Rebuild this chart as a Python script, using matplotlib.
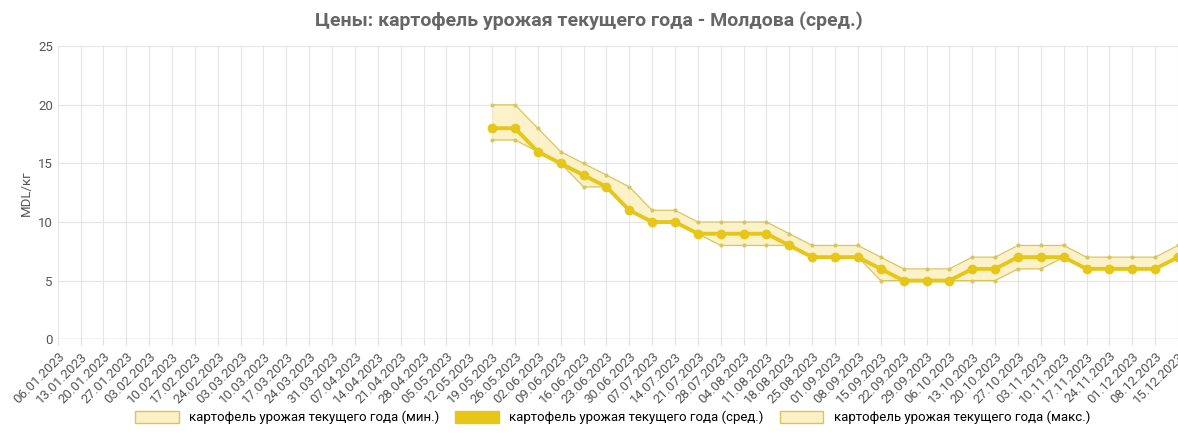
import matplotlib.pyplot as plt
import datetime as dt

plt.rcParams['font.family'] = ['Roboto', 'DejaVu Sans']

start = dt.date(2023, 1, 6)
dates = [(start + dt.timedelta(weeks=i)).strftime('%d.%m.%Y') for i in range(50)]
first = 19  # 19.05.2023

avg = [18, 18, 16, 15, 14, 13, 11, 10, 10, 9, 9, 9, 9, 8, 7, 7, 7, 6, 5, 5, 5, 6, 6, 7, 7, 7, 6, 6, 6, 6, 7]
low = [17, 17, 16, 15, 13, 13, 11, 10, 10, 9, 8, 8, 8, 8, 7, 7, 7, 5, 5, 5, 5, 5, 5, 6, 6, 7, 6, 6, 6, 6, 7]
high = [20, 20, 18, 16, 15, 14, 13, 11, 11, 10, 10, 10, 10, 9, 8, 8, 8, 7, 6, 6, 6, 7, 7, 8, 8, 8, 7, 7, 7, 7, 8]

x = list(range(first, first + len(avg)))
line_c = '#e6c619'
fill_c = '#fbf1c4'
edge_c = '#d9c560'

fig = plt.figure(figsize=(11.78, 4.36), dpi=100)
ax = fig.add_axes([0.049, 0.222, 0.951, 0.672])

ax.fill_between(x, low, high, color=fill_c, alpha=0.9, lw=0)
ax.plot(x, low, color=edge_c, lw=0.9, marker='o', ms=2)
ax.plot(x, high, color=edge_c, lw=0.9, marker='o', ms=2)
ax.plot(x, avg, color=line_c, lw=2.8, marker='o', ms=6)

ax.set_xlim(0, 49)
ax.set_ylim(0, 25)
ax.set_yticks(range(0, 26, 5))
ax.set_xticks(range(50))
ax.set_xticklabels(dates, rotation=45, ha='right', rotation_mode='anchor', fontsize=9.5, color='#555555')
ax.tick_params(axis='y', labelsize=9.5, colors='#555555', length=0)
ax.tick_params(axis='x', length=4, color='#dddddd')
ax.grid(True, color='#e5e5e5', lw=0.8)
ax.set_axisbelow(True)
for s in ax.spines.values():
    s.set_visible(False)
ax.axhline(0, color='#cccccc', lw=1)
ax.set_ylabel('MDL/кг', fontsize=9.5, color='#555555')

fig.suptitle('Цены: картофель урожая текущего года - Молдова (сред.)', fontsize=14, fontweight='bold', color='#666666', y=0.975)

from matplotlib.patches import Patch
handles = [Patch(facecolor=fill_c, edgecolor=edge_c, label='картофель урожая текущего года (мин.)'),
           Patch(facecolor=line_c, edgecolor=line_c, label='картофель урожая текущего года (сред.)'),
           Patch(facecolor=fill_c, edgecolor=edge_c, label='картофель урожая текущего года (макс.)')]
fig.legend(handles=handles, loc='lower center', ncol=3, frameon=False, fontsize=9.5,
           handlelength=3.3, handleheight=1.0, columnspacing=1.2, bbox_to_anchor=(0.52, 0.0))

fig.savefig('out.png', dpi=100)
